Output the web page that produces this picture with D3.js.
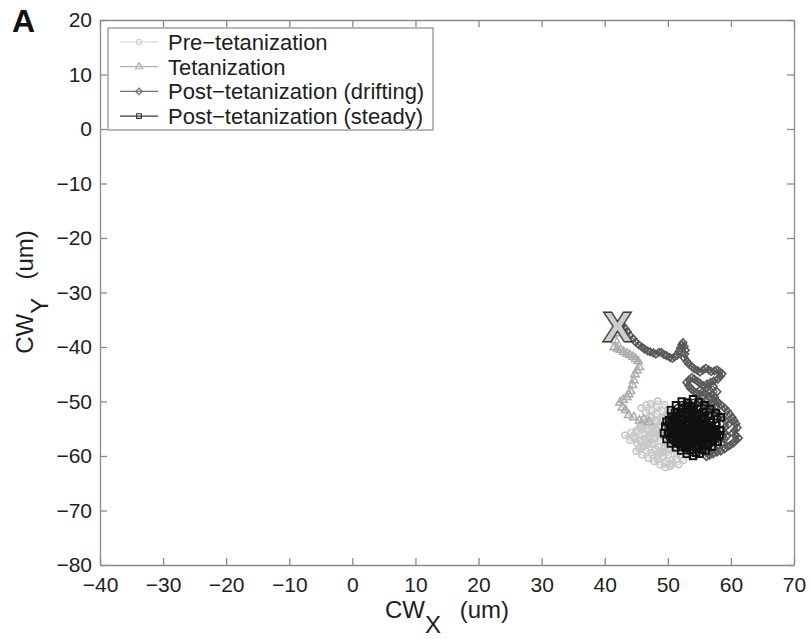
<!DOCTYPE html>
<html><head><meta charset="utf-8">
<script src="https://cdn.jsdelivr.net/npm/d3@7"></script>
<style>body{margin:0;background:#fff}svg{display:block}text{font-family:"Liberation Sans",Arial,Helvetica,sans-serif}</style>
</head><body><svg id="c" width="809" height="639"></svg>
<script>
const xTicks = [-40,-30,-20,-10,0,10,20,30,40,50,60,70];
const yTicks = [20,10,0,-10,-20,-30,-40,-50,-60,-70,-80];
const seriesNames = ["Pre\u2212tetanization","Tetanization","Post\u2212tetanization (drifting)","Post\u2212tetanization (steady)"];
const startMark = [42.0,-36.3];

const preTet = [[46.5,-52.0],[47.2,-52.8],[48.0,-53.5],[47.5,-54.6],[46.8,-55.3],[46.0,-54.8],[45.2,-55.6],[44.5,-56.4],[43.2,-56.2],[44.0,-57.1],[45.1,-57.6],[46.2,-58.2],[47.0,-57.4],[47.9,-56.6],[48.8,-57.3],[49.6,-58.4],[48.7,-59.2],[47.6,-59.8],[48.4,-60.6],[49.5,-61.3],[50.6,-60.7],[51.4,-59.6],[50.5,-58.8],[49.8,-57.7],[50.9,-56.9],[51.8,-57.8],[52.7,-58.6],[53.4,-59.7],[52.5,-60.8],[51.7,-61.6],[50.4,-61.9],[49.3,-60.1],[48.5,-58.3],[47.6,-57.9],[46.9,-56.6],[47.8,-55.7],[48.9,-54.9],[49.7,-55.9],[50.6,-55.1],[51.5,-54.2],[50.8,-53.3],[49.9,-52.5],[49.1,-51.7],[48.2,-50.9],[47.3,-50.4],[48.4,-49.9],[49.5,-50.6],[50.5,-51.4],[51.6,-52.2],[52.4,-53.1],[53.1,-54.3],[52.3,-55.4],[51.3,-56.3],[50.2,-57.0],[49.0,-56.3],[48.1,-55.2],[47.1,-54.0],[46.2,-53.2],[45.6,-54.3],[46.4,-56.0],[45.7,-57.0],[46.8,-57.9],[48.0,-58.6],[49.2,-59.3],[50.1,-59.9],[51.2,-58.5],[52.0,-57.0],[52.9,-56.2],[53.6,-57.3],
[45.8,-51.2],[46.6,-50.6],[47.5,-51.5],[48.3,-52.3],[49.2,-53.1],[50.1,-53.8],[50.9,-54.7],[49.9,-55.4],[48.9,-56.1],[47.9,-56.9],[46.9,-57.6],[45.9,-58.4],[45.0,-59.1],[45.9,-59.8],[46.9,-60.4],[47.8,-61.0],[48.8,-61.6],[49.6,-62.1],[50.5,-61.5],[51.3,-60.6],[52.1,-59.8],[52.9,-59.0],[52.2,-58.1],[51.4,-57.3],[50.6,-56.5],[49.8,-55.6],[49.0,-54.6],[48.2,-53.7],[47.4,-52.9],[46.6,-53.8],[45.8,-54.6],[45.0,-55.3],[44.2,-55.7],[44.8,-56.7],[45.6,-57.3],[46.4,-56.9],[47.3,-55.9],[48.1,-55.0],[48.9,-53.6],[49.7,-52.7],[50.4,-52.0],[51.2,-52.9],[52.0,-53.8],[52.8,-54.7],[52.6,-55.8],[51.8,-56.6],[51.0,-57.6],[50.2,-58.5],[49.3,-59.2],[48.5,-59.9],[47.4,-59.4],[46.5,-59.0],[45.4,-58.6]];

const tet = [[42.0,-37.5],[41.7,-38.8],[41.5,-40.0],[42.0,-40.3],[42.5,-40.5],[43.0,-40.9],[43.5,-41.2],[44.0,-41.5],[44.5,-41.8],[44.9,-42.2],[45.3,-42.6],[45.5,-43.7],[45.1,-44.3],[44.8,-45.0],[44.6,-46.1],[44.4,-47.0],[44.1,-48.1],[43.8,-48.7],[43.5,-49.2],[42.9,-49.7],[42.4,-50.2],[42.8,-51.1],[43.3,-51.6],[43.8,-52.5],[44.6,-52.9],[45.5,-53.5],[46.2,-53.3],[47.0,-53.8]];

const drift = [[42.8,-36.0],[43.2,-36.6],[43.6,-37.2],[44.0,-37.9],[44.5,-38.5],[44.9,-39.1],[45.4,-39.6],[45.9,-40.0],[46.3,-40.4],[46.8,-40.7],[47.2,-40.9],[47.7,-41.1],[48.1,-41.3],[48.6,-41.0],[49.0,-41.0],[49.4,-41.4],[49.8,-41.6],[50.3,-41.9],[50.7,-42.1],[51.1,-41.8],[51.5,-41.5],[51.8,-40.8],[52.0,-40.2],[52.2,-39.6],[52.4,-39.2],[52.6,-39.9],[52.8,-40.6],[52.7,-41.3],[52.6,-42.0],[53.0,-42.6],[53.3,-43.1],[53.8,-43.6],[54.2,-44.0],[54.7,-44.3],[55.1,-44.6],[55.6,-44.2],[56.0,-43.9],[56.5,-44.2],[56.9,-44.5],[57.4,-44.4],[57.8,-44.2],[58.2,-44.5],[58.6,-44.9],[58.3,-45.4],[57.9,-45.9],[57.3,-46.2],[56.8,-46.5],[56.2,-46.8],[55.6,-47.1],[55.1,-46.7],[54.7,-46.3],[54.2,-45.9],[53.8,-45.6],[53.4,-46.0],[53.0,-46.5],[53.3,-47.1],[53.6,-47.6],[54.0,-48.0],[54.5,-48.4],[55.0,-48.7],[55.5,-49.0],[55.2,-47.8],[56.2,-47.5],[57.2,-47.2],[57.8,-48.2],[56.9,-49.6],[56.2,-50.0],[55.6,-51.5],[56.6,-52.4],[57.6,-50.9],[56.8,-50.3],[56.0,-48.6],[56.5,-48.3],[57.0,-48.7],[57.4,-49.2],[57.7,-49.8],[58.0,-50.3],[58.5,-50.7],[59.0,-51.2],[59.4,-51.7],[59.8,-52.3],[60.2,-52.9],[60.5,-53.5],[60.8,-54.1],[61.0,-54.8],[60.6,-55.3],[60.3,-55.8],[60.8,-56.2],[61.2,-56.7],[60.8,-57.1],[60.4,-57.6],[59.9,-58.0],[59.5,-58.3],[59.0,-58.7],[58.4,-59.1],[57.8,-59.3],[57.2,-59.6],[56.6,-59.9],[56.1,-60.1],[56.7,-59.3],[57.3,-58.5],[57.9,-58.0],[58.6,-57.5],[59.0,-56.9],[59.3,-56.4],[59.0,-55.8],[58.7,-55.2],[59.1,-54.7],[59.6,-54.2],[59.2,-53.6],[58.8,-53.1],[58.3,-52.6],[57.9,-52.2],[57.4,-51.8],[57.0,-51.4],[56.5,-51.0],[56.0,-50.6],[55.5,-50.4],[55.1,-50.2],[54.6,-50.5],[54.2,-50.9],[53.7,-50.6],[53.3,-50.3],[52.8,-50.6],[52.4,-51.0],[52.0,-51.4],[51.6,-51.8],[51.2,-52.1],[50.8,-52.5],[51.1,-53.0],[51.5,-53.6],[52.0,-54.0],[52.5,-54.5]];

const steady = [[54.0,-52.0],[53.2,-52.8],[52.4,-53.5],[51.6,-54.3],[50.8,-55.1],[50.1,-56.0],[50.9,-56.9],[51.8,-57.6],[52.7,-58.3],[53.6,-58.9],[54.5,-59.4],[55.4,-58.8],[56.3,-58.1],[57.1,-57.3],[57.8,-56.4],[58.3,-55.3],[57.6,-54.4],[56.8,-53.6],[55.9,-52.9],[55.0,-52.3],[54.1,-51.6],[53.2,-50.9],[52.3,-51.4],[51.4,-52.0],[50.6,-52.8],[49.8,-53.7],[50.4,-54.6],[51.2,-55.4],[52.0,-56.2],[52.9,-56.9],[53.8,-57.5],[54.7,-58.0],[55.6,-57.4],[56.5,-56.7],[57.3,-55.9],[56.6,-55.0],[55.7,-54.3],[54.8,-53.6],[53.9,-53.0],[53.0,-53.7],[52.2,-54.5],[51.5,-55.6],[52.3,-57.2],[53.3,-58.1],[54.2,-57.0],[55.1,-56.2],[56.0,-55.5],[56.9,-54.8],[57.7,-53.9],[58.4,-52.9],[57.6,-52.1],[56.7,-51.4],[55.8,-50.7],[54.9,-50.1],[54.0,-49.6],[53.1,-50.2],[52.2,-50.0],[51.3,-50.7],[50.5,-51.6],[51.1,-53.1],[52.0,-52.4],[52.9,-52.0],[53.8,-52.6],[54.7,-53.2],[55.6,-53.9],[56.5,-54.6],[57.4,-55.3],[58.2,-56.2],[57.9,-57.4],[57.0,-58.3],[56.0,-59.0],[55.0,-59.6],[54.0,-60.0],[53.0,-59.6],[52.1,-59.0],[51.3,-58.4],[50.5,-57.7],[49.8,-56.9],[49.4,-55.8],[49.6,-54.6],[50.2,-53.4],[51.0,-54.2],[51.9,-55.0],[52.8,-55.7],[53.7,-56.3],[54.6,-55.6],[55.5,-55.0],[54.8,-54.6],[53.9,-54.2],[53.0,-54.9],[52.5,-55.9],[53.4,-55.2],[54.3,-54.8],[55.2,-55.6],[54.4,-56.4],[53.5,-56.9],[54.9,-57.3],[55.8,-56.4],[55.3,-53.4],[54.4,-52.5],[53.5,-51.6],
[53.0,-53.2],[52.4,-54.0],[53.1,-54.4],[53.8,-53.8],[54.6,-54.1],[55.4,-54.5],[56.1,-54.0],[56.2,-55.4],[55.6,-56.0],[54.8,-56.6],[54.0,-57.1],[53.1,-57.6],[52.4,-56.8],[51.8,-56.1],[51.0,-55.8],[50.6,-56.6],[51.3,-57.0],[52.0,-57.8],[52.9,-58.5],[53.8,-58.2],[54.6,-58.6],[55.5,-58.1],[56.3,-57.5],[56.9,-56.8],[57.5,-56.3],[57.0,-55.6],[56.3,-55.9],[55.5,-56.7],[54.7,-57.5],[53.9,-56.1],[53.2,-55.6],[52.6,-55.1],[51.9,-54.2],[52.3,-53.3],[53.1,-52.6],[54.0,-53.4],[54.9,-53.9],[55.8,-53.2],[56.4,-52.6],[55.6,-52.0],[54.7,-51.4],[53.8,-51.1],[52.9,-51.3],[52.1,-52.0],[51.4,-52.8],[50.8,-53.8],[50.5,-55.2],[51.6,-56.9],[52.7,-57.4],[53.6,-57.9],[54.5,-57.6],[55.3,-57.9],[56.1,-57.0],[55.9,-55.2],[55.0,-55.3],[54.1,-55.6],[53.3,-56.3]];

const L = 100, R = 794, T = 20, B = 565;
const x = d3.scaleLinear().domain([-40,70]).range([L,R]);
const y = d3.scaleLinear().domain([-80,20]).range([B,T]);
const svg = d3.select("#c");

const frameCol = "#8a8a8a", txtCol = "#1e1e1e";
const fmt = d => String(d).replace("-","\u2212");

const gx = svg.append("g").attr("transform",`translate(0,${B})`)
  .call(d3.axisBottom(x).tickValues(xTicks).tickSizeInner(-7).tickSizeOuter(0).tickPadding(12).tickFormat(fmt));
const gy = svg.append("g").attr("transform",`translate(${L},0)`)
  .call(d3.axisLeft(y).tickValues(yTicks).tickSizeInner(-7).tickSizeOuter(0).tickPadding(8).tickFormat(fmt));
const gt = svg.append("g").attr("transform",`translate(0,${T})`)
  .call(d3.axisTop(x).tickValues(xTicks).tickSizeInner(-7).tickSizeOuter(0).tickFormat(""));
const gr = svg.append("g").attr("transform",`translate(${R},0)`)
  .call(d3.axisRight(y).tickValues(yTicks).tickSizeInner(-7).tickSizeOuter(0).tickFormat(""));
[gx,gy,gt,gr].forEach(g=>{
  g.selectAll(".domain").attr("stroke",frameCol).attr("stroke-width",1.3);
  g.selectAll(".tick line").attr("stroke",frameCol).attr("stroke-width",1.3);
  g.selectAll(".tick text").attr("fill",txtCol).style("font-size","21px");
});

const styles = [
  {data:preTet, color:"#c8c8c8", lc:"#d0d0d0", sym:d3.symbolCircle, size:30, rot:0, sw:1.7, lgColor:"#cfcfcf"},
  {data:tet, color:"#acacac", lc:"#bcbcbc", sym:d3.symbolTriangle, size:30, rot:0, sw:1.5, lgColor:"#b0b0b0"},
  {data:drift, color:"#585858", lc:"#686868", sym:d3.symbolSquare, size:28, rot:45, sw:1.6, lgColor:"#6f6f6f"},
  {data:steady, color:"#101010", lc:"#161616", sym:d3.symbolSquare, size:44, rot:0, sw:1.9, lgColor:"#3a3a3a"}
];
const line = d3.line().x(d=>x(d[0])).y(d=>y(d[1]));
const plot = svg.append("g");
styles.forEach(s=>{
  plot.append("path").attr("d",line(s.data)).attr("fill","none").attr("stroke",s.lc).attr("stroke-width",1.2);
  plot.selectAll(null).data(s.data).enter().append("path")
    .attr("d",d3.symbol().type(s.sym).size(s.size))
    .attr("transform",d=>`translate(${x(d[0])},${y(d[1])}) rotate(${s.rot})`)
    .attr("fill","none").attr("stroke",s.color).attr("stroke-width",s.sw);
});

svg.append("text").attr("x",x(startMark[0])).attr("y",y(startMark[1])+14.5)
  .attr("text-anchor","middle").style("font-size","41px").style("font-weight","bold")
  .attr("fill","#cdcdcd").attr("stroke","#3c3c3c").attr("stroke-width",2.8).attr("paint-order","stroke")
  .text("X");

const lg = svg.append("g");
lg.append("rect").attr("x",108).attr("y",28).attr("width",325).attr("height",102)
  .attr("fill","#fff").attr("stroke",frameCol).attr("stroke-width",1.2);
seriesNames.forEach((n,i)=>{
  const s = styles[i], yy = 42 + i*24.7;
  lg.append("line").attr("x1",120).attr("x2",158).attr("y1",yy).attr("y2",yy).attr("stroke",s.lgColor).attr("stroke-width",1.2);
  lg.append("path").attr("d",d3.symbol().type(s.sym).size(22)).attr("transform",`translate(139,${yy}) rotate(${s.rot})`)
    .attr("fill","none").attr("stroke",s.lgColor).attr("stroke-width",1.2);
  lg.append("text").attr("x",168).attr("y",yy+7.8).attr("fill",txtCol).style("font-size","22px").text(n);
});

const xt = svg.append("text").attr("x",447).attr("y",618).attr("text-anchor","middle").attr("fill",txtCol).style("font-size","24px");
xt.append("tspan").text("CW");
xt.append("tspan").attr("dy",15).text("X");
xt.append("tspan").attr("dy",-15).attr("dx",12).text(" (um)");
const yt = svg.append("text").attr("transform","translate(33,292) rotate(-90)").attr("text-anchor","middle").attr("fill",txtCol).style("font-size","24px");
yt.append("tspan").text("CW");
yt.append("tspan").attr("dy",15).text("Y");
yt.append("tspan").attr("dy",-15).attr("dx",12).text(" (um)");

svg.append("text").attr("x",12).attr("y",32).style("font-size","32px").style("font-weight","bold").attr("fill","#111").text("A");
</script></body></html>
